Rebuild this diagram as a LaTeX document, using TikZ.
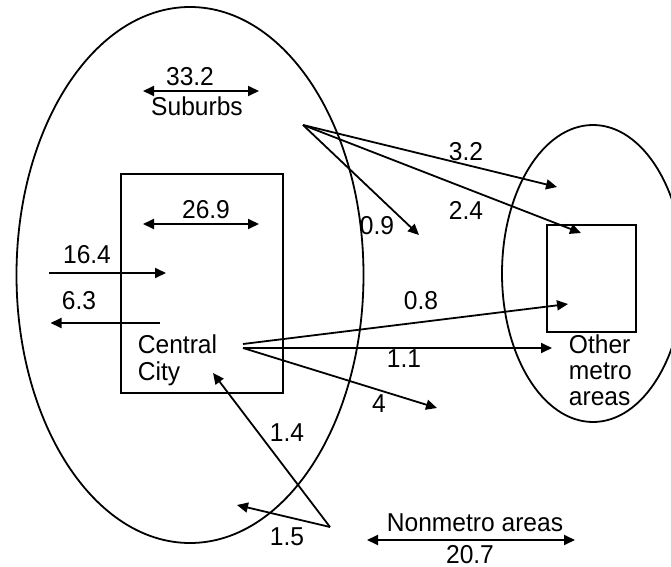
\documentclass[tikz,border=0pt]{standalone}
\usepackage{fontspec}
\setmainfont{Liberation Sans}[FakeStretch=0.95]
\usetikzlibrary{arrows.meta,shapes.geometric}
\begin{document}
\begin{tikzpicture}[x=0.75pt,y=-0.75pt,
  line width=1.35pt,
  tip/.tip={Triangle[length=8.25pt,width=7.5pt]},
  arr/.style={-tip},
  dbl/.style={tip-tip},
  lbl/.style={inner sep=0pt, font=\fontsize{19.4pt}{20pt}\selectfont},
  area/.style={draw, ellipse, inner sep=0pt},
  box/.style={draw, rectangle, inner sep=0pt}]
\useasboundingbox (0,0) rectangle (671,567);
\clip (0,0) rectangle (671,567);
% regions
\node[area, minimum width=260.25pt, minimum height=402pt] (metro) at (190,275) {};
\node[area, minimum width=136.5pt, minimum height=222.75pt] (other) at (593,273.5) {};
\node[box, minimum width=121.5pt, minimum height=164.25pt] (cc) at (202,283.5) {};
\node[box, minimum width=66.75pt, minimum height=80.25pt] (ob) at (591.5,278.5) {};
% texts
\node[lbl, anchor=base] (suburbs) at (197,115) {Suburbs};
\node[lbl, anchor=base west] (central) at (137,353) {Central};
\node[lbl, anchor=base west] (city) at (137,380) {City};
\node[lbl, anchor=base west] (oth1) at (568,353) {Other};
\node[lbl, anchor=base west] (oth2) at (568,379) {metro};
\node[lbl, anchor=base west] (oth3) at (568,405) {areas};
\node[lbl, anchor=base] (nonmetro) at (475,531.5) {Nonmetro areas};
% value labels
\node[lbl] (v332) at (190,77) {33.2};
\node[lbl] (v269) at (206,210) {26.9};
\node[lbl] (v164) at (87,255) {16.4};
\node[lbl] (v63) at (79,301) {6.3};
\node[lbl] (v09) at (377,226) {0.9};
\node[lbl] (v32) at (466,152) {3.2};
\node[lbl] (v24) at (466,210) {2.4};
\node[lbl] (v08) at (421,301) {0.8};
\node[lbl] (v11) at (404,359) {1.1};
\node[lbl] (v4) at (379,404) {4};
\node[lbl] (v14) at (287,433) {1.4};
\node[lbl] (v15) at (287,537) {1.5};
\node[lbl] (v207) at (470,555) {20.7};
% connector points
\coordinate (s0) at (303,125);
\coordinate (s32) at (557,187);
\coordinate (s24) at (581,233);
\coordinate (s09) at (419,235);
\coordinate (c0) at (243,344);
\coordinate (c1) at (243,348);
\coordinate (c08) at (568,304);
\coordinate (c11) at (552,348);
\coordinate (c4) at (437,408);
\coordinate (n0) at (330,527);
\coordinate (n14) at (213,373);
\coordinate (n15) at (237,505);
\coordinate (i0) at (49,273);
\coordinate (i1) at (166,273);
\coordinate (o0) at (160,323);
\coordinate (o1) at (50.5,323);
\coordinate (a1) at (143,91);
\coordinate (a2) at (259,91);
\coordinate (b1) at (143,224);
\coordinate (b2) at (259,224);
\coordinate (d1) at (367,540);
\coordinate (d2) at (575,540);
% arrows
\draw[arr] (s0) -- (s32);
\draw[arr] (s0) -- (s24);
\draw[arr] (s0) -- (s09);
\draw[arr] (c0) -- (c08);
\draw[arr] (c1) -- (c11);
\draw[arr] (c1) -- (c4);
\draw[arr] (n0) -- (n14);
\draw[arr] (n0) -- (n15);
\draw[arr] (i0) -- (i1);
\draw[arr] (o0) -- (o1);
\draw[dbl] (a1) -- (a2);
\draw[dbl] (b1) -- (b2);
\draw[dbl] (d1) -- (d2);
\end{tikzpicture}
\end{document}
